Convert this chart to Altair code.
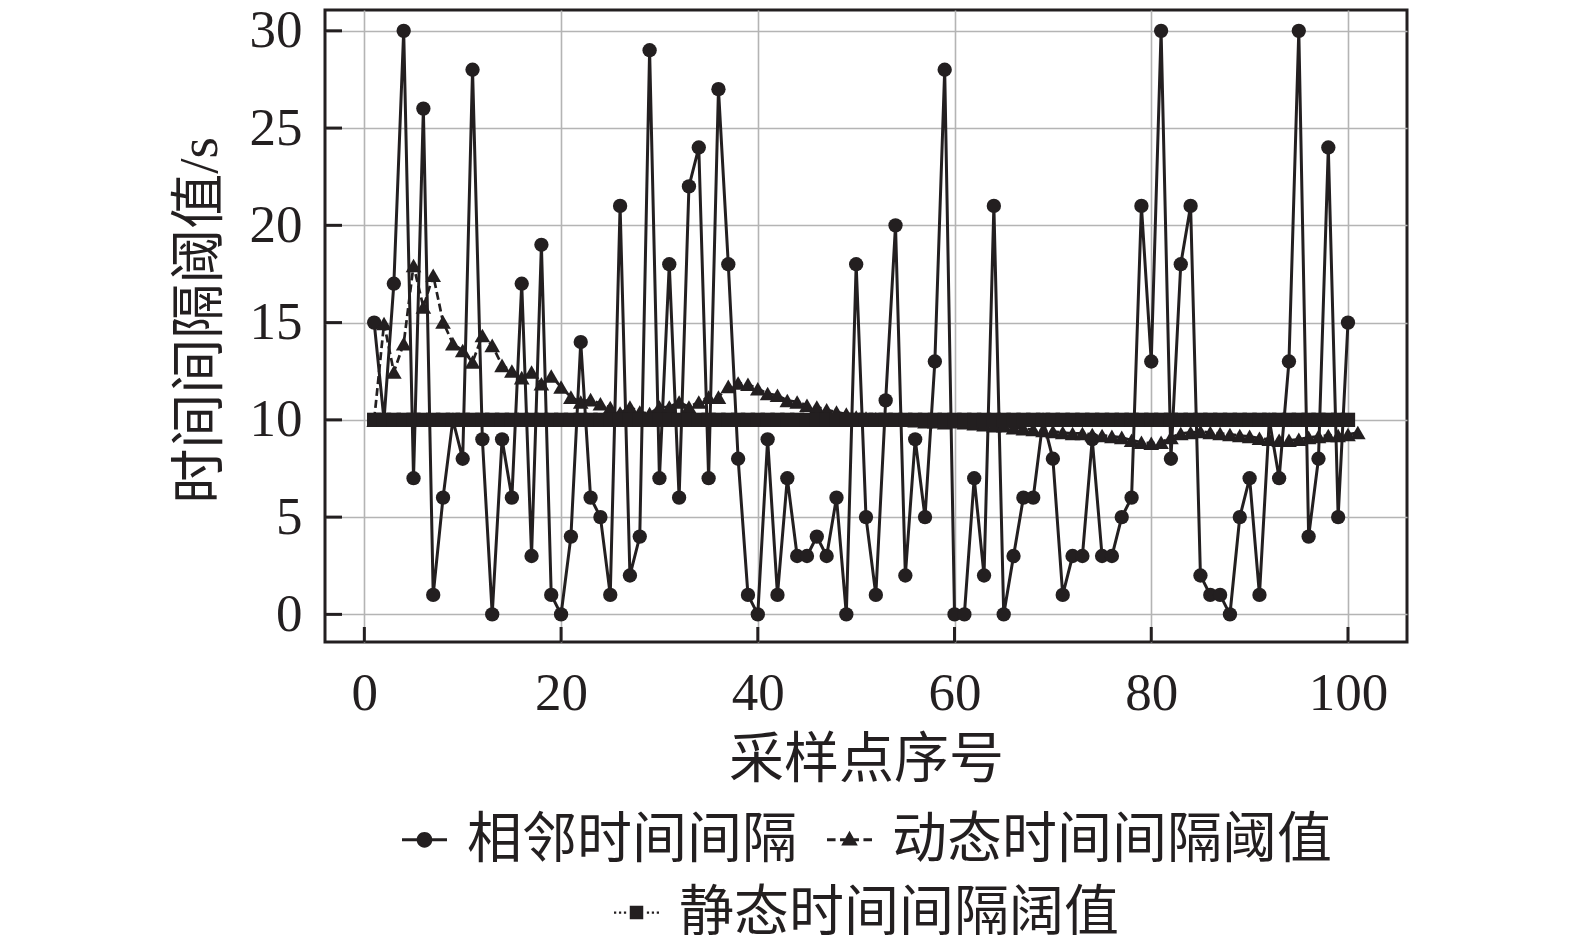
import altair as alt
import pandas as pd

INK = "#231f20"

# ---------------- data ----------------
adj_name = "相邻时间间隔"
dyn_name = "动态时间间隔阈值"
sta_name = "静态时间间隔阔值"

adj_idx = list(range(1, 101))
adjacent = [15, 10, 17, 30, 7, 26, 1, 6, 10, 8,
            28, 9, 0, 9, 6, 17, 3, 19, 1, 0,
            4, 14, 6, 5, 1, 21, 2, 4, 29, 7,
            18, 6, 22, 24, 7, 27, 18, 8, 1, 0,
            9, 1, 7, 3, 3, 4, 3, 6, 0, 18,
            5, 1, 11, 20, 2, 9, 5, 13, 28, 0,
            0, 7, 2, 21, 0, 3, 6, 6, 10, 8,
            1, 3, 3, 9, 3, 3, 5, 6, 21, 13,
            30, 8, 18, 21, 2, 1, 1, 0, 5, 7,
            1, 10, 7, 13, 30, 4, 8, 24, 5, 15]

dyn_idx = list(range(1, 102))
dynamic = [10.0, 14.95, 12.46, 13.92, 17.94, 15.8, 17.43, 15.03, 13.92, 13.57,
           12.97, 14.34, 13.83, 12.8, 12.51, 12.17, 12.46, 11.86, 12.25, 11.69,
           11.17, 10.92, 11.04, 10.83, 10.63, 10.35, 10.66, 10.4, 10.32, 10.66,
           10.66, 10.92, 10.66, 10.92, 11.17, 11.17, 11.72, 11.89, 11.83, 11.6,
           11.35, 11.26, 11.0, 10.92, 10.75, 10.66, 10.52, 10.4, 10.3, 10.15,
           10.1, 10.05, 10.0, 10.0, 10.0, 9.95, 9.9, 9.9, 9.85, 9.9,
           9.85, 9.8, 9.75, 9.7, 9.7, 9.6, 9.55, 9.5, 9.45, 9.4,
           9.35, 9.3, 9.3, 9.25, 9.2, 9.15, 9.1, 8.95, 8.85, 8.8,
           8.85, 9.1, 9.3, 9.35, 9.4, 9.35, 9.3, 9.25, 9.2, 9.15,
           9.05, 9.0, 8.95, 8.95, 9.0, 9.1, 9.15, 9.2, 9.2, 9.25,
           9.35]

sta_idx = list(range(1, 101))
static = [10] * 100

x_ticks = [0, 20, 40, 60, 80, 100]
y_ticks = [0, 5, 10, 15, 20, 25, 30]

# legend glyphs (line + marker), drawn in a [-1, 1] box
P_ADJ = ("M-1,-0.07L1,-0.07L1,0.07L-1,0.07Z "
         "M0.35,0A0.35,0.35,0,1,1,-0.35,0A0.35,0.35,0,1,1,0.35,0Z")
P_DYN = ("M-1,-0.07L-0.62,-0.07L-0.62,0.07L-1,0.07Z "
         "M-0.42,-0.07L0.42,-0.07L0.42,0.07L-0.42,0.07Z "
         "M0.62,-0.07L1,-0.07L1,0.07L0.62,0.07Z "
         "M0,-0.40L0.37,0.25L-0.37,0.25Z")
P_STA = ("M-1,-0.05L-0.9,-0.05L-0.9,0.05L-1,0.05Z "
         "M-0.78,-0.05L-0.68,-0.05L-0.68,0.05L-0.78,0.05Z "
         "M-0.56,-0.05L-0.46,-0.05L-0.46,0.05L-0.56,0.05Z "
         "M-0.3,-0.3L0.3,-0.3L0.3,0.3L-0.3,0.3Z "
         "M0.46,-0.05L0.56,-0.05L0.56,0.05L0.46,0.05Z "
         "M0.68,-0.05L0.78,-0.05L0.78,0.05L0.68,0.05Z "
         "M0.9,-0.05L1,-0.05L1,0.05L0.9,0.05Z")

df_adj = pd.DataFrame({"i": adj_idx, "v": adjacent})
df_dyn = pd.DataFrame({"i": dyn_idx, "v": dynamic})
df_sta = pd.DataFrame({"i": sta_idx, "v": static})
df_xt = pd.DataFrame({"i": x_ticks})
df_yt = pd.DataFrame({"v": y_ticks})
df_legA = pd.DataFrame({"name": [adj_name, dyn_name]})
df_legB = pd.DataFrame({"name": [sta_name]})

W, H = 1082, 632

X = alt.X("i:Q",
          scale=alt.Scale(domain=[-4, 106], nice=False, zero=False),
          axis=alt.Axis(values=x_ticks, title="采样点序号", grid=True,
                        ticks=False, tickSize=0, domain=False,
                        labelFont="Liberation Serif", labelFontSize=53,
                        labelColor=INK, labelPadding=25,
                        titleFont="Noto Sans CJK SC", titleFontSize=55,
                        titleFontWeight="normal", titleColor=INK,
                        titleBaseline="alphabetic", titleY=134))
Y = alt.Y("v:Q",
          scale=alt.Scale(domain=[-1.42, 31.07], nice=False, zero=False),
          axis=alt.Axis(values=y_ticks, title="时间间隔阈值/s", grid=True,
                        ticks=False, tickSize=0, domain=False,
                        labelFont="Liberation Serif", labelFontSize=53,
                        labelColor=INK, labelPadding=23,
                        titleFont="Liberation Serif, Noto Sans CJK SC",
                        titleFontSize=55, titleFontWeight="normal",
                        titleColor=INK, titleAngle=270,
                        titleAlign="center", titleBaseline="alphabetic",
                        titleX=-109, titleY=310))

adj_line = alt.Chart(df_adj).mark_line(color=INK, strokeWidth=3).encode(x=X, y=Y)
adj_pts = alt.Chart(df_adj).mark_point(filled=True, shape="circle", size=205,
                                      color=INK, opacity=1).encode(x=X, y=Y)
dyn_line = alt.Chart(df_dyn).mark_line(color=INK, strokeWidth=2.7,
                                       strokeDash=[8, 4]).encode(x=X, y=Y)
dyn_pts = alt.Chart(df_dyn).mark_point(filled=True, shape="triangle-up", size=245,
                                      color=INK, opacity=1).encode(x=X, y=Y)
sta_line = alt.Chart(df_sta).mark_line(color=INK, strokeWidth=2,
                                       strokeDash=[2, 3]).encode(x=X, y=Y)
sta_pts = alt.Chart(df_sta).mark_point(filled=True, shape="square", size=205,
                                      color=INK, opacity=1).encode(x=X, y=Y)

xt = alt.Chart(df_xt).mark_rule(color=INK, strokeWidth=3).encode(
    x=X, y=alt.value(H), y2=alt.value(H - 15))
yt = alt.Chart(df_yt).mark_rule(color=INK, strokeWidth=3).encode(
    y=Y, x=alt.value(0), x2=alt.value(17))

legA = alt.Chart(df_legA).mark_point(filled=True, size=2025, color=INK, opacity=0).encode(
    shape=alt.Shape("name:N",
                    scale=alt.Scale(domain=[adj_name, dyn_name], range=[P_ADJ, P_DYN]),
                    legend=alt.Legend(orient="none", legendX=72, legendY=802,
                                      direction="horizontal", title=None,
                                      labelFont="Noto Sans CJK SC", labelFontSize=55,
                                      labelColor=INK, labelOffset=15, columnPadding=24,
                                      symbolSize=2025, symbolStrokeWidth=0,
                                      symbolOpacity=1, padding=0, labelLimit=1000)))
legB = alt.Chart(df_legB).mark_point(filled=True, size=2025, opacity=0).encode(
    color=alt.Color("name:N",
                    scale=alt.Scale(domain=[sta_name], range=[INK]),
                    legend=alt.Legend(orient="none", legendX=284, legendY=875,
                                      direction="horizontal", title=None,
                                      symbolType=P_STA,
                                      labelFont="Noto Sans CJK SC", labelFontSize=55,
                                      labelColor=INK, labelOffset=15,
                                      symbolSize=2025, symbolStrokeWidth=0,
                                      symbolOpacity=1, padding=0, labelLimit=1000)))

chart = alt.layer(adj_line, adj_pts, dyn_line, dyn_pts, sta_line, sta_pts,
                  xt, yt, legA, legB).resolve_scale(
    shape="independent", color="independent"
).properties(
    width=W, height=H,
    autosize=alt.AutoSizeParams(type="none"),
    padding={"left": 317, "top": 2, "right": 150, "bottom": 293},
).configure_view(
    stroke=INK, strokeWidth=3
).configure_axis(
    gridColor="#b4b4b4", gridWidth=1.6, gridOpacity=1
)

chart.save("out.html", embed_options={"renderer": "svg", "actions": False})
